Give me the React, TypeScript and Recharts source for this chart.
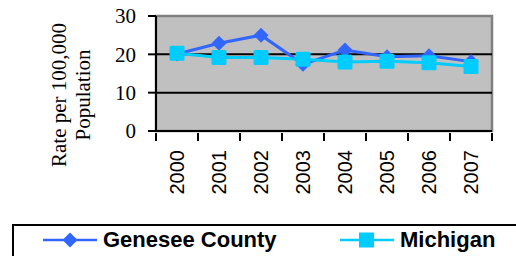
import React from 'react'
import { LineChart, Line, XAxis, YAxis, ReferenceArea, ReferenceLine, Legend } from 'recharts'

const years = ['2000', '2001', '2002', '2003', '2004', '2005', '2006', '2007']
const genesee = [20.1, 22.9, 25.0, 17.4, 21.1, 19.4, 19.6, 18.1]
const michigan = [20.3, 19.2, 19.2, 18.7, 18.0, 18.2, 17.8, 16.8]
const yTicks = [0, 10, 20, 30]

const data = years.map((year, i) => ({ year, genesee: genesee[i], michigan: michigan[i] }))

const SERIF = '"Liberation Serif", "Times New Roman", serif'
const SANS = '"Liberation Sans", Arial, sans-serif'

const GEN_COLOR = '#3366FF'
const MI_COLOR = '#00CCFF'

function Diamond(props: any) {
  const { cx, cy } = props
  if (cx == null || cy == null) return null
  const r = 7.5
  return <path d={`M${cx},${cy - r}L${cx + r},${cy}L${cx},${cy + r}L${cx - r},${cy}Z`} fill={GEN_COLOR} />
}

function Square(props: any) {
  const { cx, cy } = props
  if (cx == null || cy == null) return null
  const s = 15
  return <rect x={cx - s / 2} y={cy - s / 2} width={s} height={s} rx={1.5} fill={MI_COLOR} />
}

// year label rotated, with tick marks at the category boundaries
function YearTick(props: any) {
  const { x, y, payload, index } = props
  const half = 21
  return (
    <g>
      <line x1={x - half} y1={y - 6} x2={x - half} y2={y + 2} stroke="#000" strokeWidth={2} />
      {index === years.length - 1 && (
        <line x1={x + half} y1={y - 6} x2={x + half} y2={y + 2} stroke="#000" strokeWidth={2} />
      )}
      <text
        transform={`translate(${x}, ${y + 11}) rotate(-90)`}
        textAnchor="end"
        dominantBaseline="central"
        fontFamily={SANS}
        fontSize={20}
        fill="#000"
      >
        {payload.value}
      </text>
    </g>
  )
}

function YLabel() {
  const style = { fontFamily: SERIF, fontSize: 21, fill: '#000' }
  return (
    <g>
      <text transform="translate(59, 95) rotate(-90)" textAnchor="middle" dominantBaseline="central" style={style}>
        Rate per 100,000
      </text>
      <text transform="translate(83, 95) rotate(-90)" textAnchor="middle" dominantBaseline="central" style={style}>
        Population
      </text>
    </g>
  )
}

function LegendBox() {
  const item = (left: number, color: string, marker: React.ReactNode, label: string) => (
    <div style={{ position: 'absolute', left, top: 2, height: 28, display: 'flex', alignItems: 'center' }}>
      <svg width={56} height={20} style={{ display: 'block' }}>
        <line x1={1} y1={10} x2={55} y2={10} stroke={color} strokeWidth={2.5} />
        {marker}
      </svg>
      <span style={{ fontFamily: SANS, fontWeight: 'bold', fontSize: 22, color: '#000', marginLeft: 5 }}>{label}</span>
    </div>
  )
  return (
    <div style={{ position: 'relative', width: 516, height: 32 }}>
      <div
        style={{
          position: 'absolute',
          left: 12,
          top: 0,
          width: 520,
          height: 40,
          borderTop: '2px solid #000',
          borderLeft: '2px solid #000',
          boxSizing: 'border-box',
        }}
      />
      {item(42, GEN_COLOR, <path d="M28,2.5L35.5,10L28,17.5L20.5,10Z" fill={GEN_COLOR} />, 'Genesee County')}
      {item(339, MI_COLOR, <rect x={20} y={2.5} width={15} height={15} fill={MI_COLOR} />, 'Michigan')}
    </div>
  )
}

export default function App() {
  return (
    <div style={{ position: 'absolute', left: 0, top: 0, width: 516, height: 256 }}>
      <LineChart width={516} height={256} data={data} margin={{ top: 16, right: 24, bottom: 0, left: 0 }}>
        <ReferenceArea y1={0} y2={30} fill="#C0C0C0" fillOpacity={1} stroke="#808080" strokeWidth={2.5} />
        <ReferenceLine y={10} stroke="#000" strokeWidth={2} />
        <ReferenceLine y={20} stroke="#000" strokeWidth={2} />
        <XAxis
          dataKey="year"
          scale="band"
          interval={0}
          height={93}
          tickLine={false}
          axisLine={{ stroke: '#000', strokeWidth: 2 }}
          tick={<YearTick />}
        />
        <YAxis
          width={156}
          domain={[0, 30]}
          ticks={yTicks}
          interval={0}
          tickSize={8}
          tickMargin={12}
          axisLine={{ stroke: '#000', strokeWidth: 2 }}
          tickLine={{ stroke: '#000', strokeWidth: 2 }}
          tick={{ fontFamily: SERIF, fontSize: 21, fill: '#000' }}
          label={{ content: <YLabel /> }}
        />
        <Legend verticalAlign="bottom" content={<LegendBox />} wrapperStyle={{ left: 0, width: 516 }} />
        <Line
          dataKey="genesee"
          name="Genesee County"
          stroke={GEN_COLOR}
          strokeWidth={3}
          dot={<Diamond />}
          activeDot={false}
          isAnimationActive={false}
        />
        <Line
          dataKey="michigan"
          name="Michigan"
          stroke={MI_COLOR}
          strokeWidth={3}
          dot={<Square />}
          activeDot={false}
          isAnimationActive={false}
        />
      </LineChart>
    </div>
  )
}
